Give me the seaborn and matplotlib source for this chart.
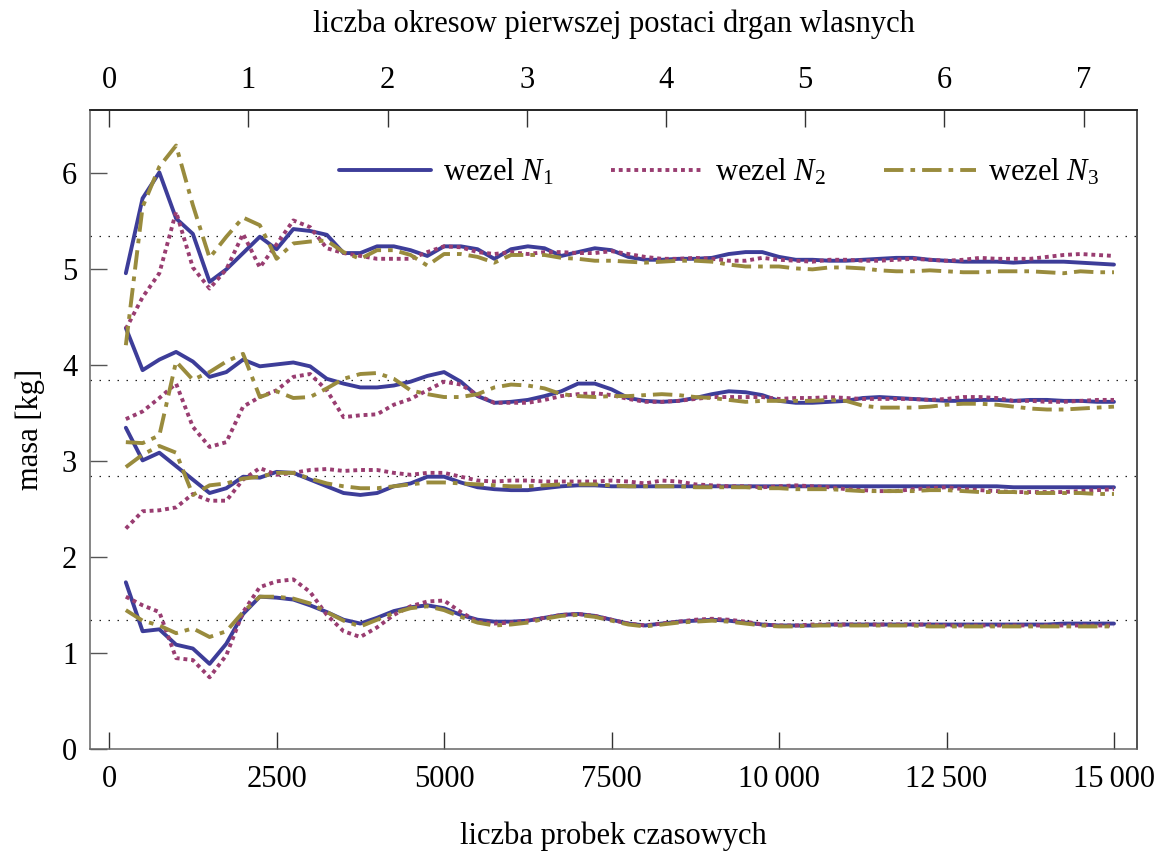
import numpy as np
import pandas as pd
import matplotlib
matplotlib.use("Agg")
import matplotlib.pyplot as plt
import seaborn as sns
from matplotlib.lines import Line2D

sns.set_theme(style="ticks")
plt.rcParams["font.family"] = ["Liberation Serif", "DejaVu Serif"]
plt.rcParams["mathtext.fontset"] = "custom"
plt.rcParams["mathtext.rm"] = "Liberation Serif"
plt.rcParams["mathtext.it"] = "Liberation Serif:italic"
for k in ["text.color", "axes.labelcolor", "xtick.color", "ytick.color"]:
    plt.rcParams[k] = "black"

# ---------------- data ----------------
probki = list(range(250, 15001, 250))  # liczba probek czasowych (60 points)

g1_n1 = [4.96, 5.74, 6.01, 5.53, 5.37, 4.87, 5.00, 5.17, 5.34, 5.21,
         5.42, 5.40, 5.36, 5.17, 5.17, 5.24, 5.24, 5.20, 5.14, 5.24,
         5.24, 5.21, 5.11, 5.21, 5.24, 5.22, 5.14, 5.18, 5.22, 5.20,
         5.13, 5.10, 5.10, 5.11, 5.11, 5.12, 5.16, 5.18, 5.18, 5.13,
         5.10, 5.10, 5.09, 5.09, 5.10, 5.11, 5.12, 5.12, 5.10, 5.09,
         5.08, 5.08, 5.08, 5.07, 5.08, 5.08, 5.08, 5.07, 5.06, 5.05]
g1_n2 = [4.38, 4.71, 4.96, 5.60, 5.02, 4.80, 5.00, 5.37, 5.02, 5.26,
         5.51, 5.44, 5.22, 5.17, 5.14, 5.11, 5.11, 5.11, 5.18, 5.24,
         5.23, 5.18, 5.16, 5.18, 5.16, 5.18, 5.18, 5.17, 5.17, 5.19,
         5.16, 5.13, 5.11, 5.11, 5.12, 5.11, 5.09, 5.09, 5.12, 5.10,
         5.09, 5.08, 5.10, 5.10, 5.09, 5.09, 5.10, 5.11, 5.10, 5.09,
         5.10, 5.12, 5.11, 5.11, 5.11, 5.13, 5.15, 5.16, 5.15, 5.14]
g1_n3 = [4.21, 5.65, 6.07, 6.29, 5.67, 5.12, 5.34, 5.54, 5.46, 5.11,
         5.27, 5.29, 5.30, 5.18, 5.11, 5.20, 5.20, 5.15, 5.04, 5.16,
         5.16, 5.13, 5.07, 5.15, 5.15, 5.15, 5.12, 5.11, 5.09, 5.09,
         5.08, 5.07, 5.08, 5.09, 5.09, 5.08, 5.05, 5.03, 5.03, 5.03,
         5.01, 5.00, 5.02, 5.02, 5.01, 4.99, 4.98, 4.98, 4.99, 4.98,
         4.97, 4.97, 4.98, 4.98, 4.98, 4.97, 4.96, 4.98, 4.97, 4.97]

g2_n1 = [4.39, 3.95, 4.06, 4.14, 4.04, 3.88, 3.93, 4.06, 3.99, 4.01,
         4.03, 3.99, 3.86, 3.81, 3.77, 3.77, 3.79, 3.83, 3.89, 3.93,
         3.83, 3.68, 3.61, 3.62, 3.64, 3.68, 3.73, 3.81, 3.81, 3.75,
         3.66, 3.63, 3.62, 3.63, 3.66, 3.70, 3.73, 3.72, 3.69, 3.63,
         3.61, 3.61, 3.62, 3.63, 3.66, 3.67, 3.66, 3.65, 3.64, 3.63,
         3.63, 3.64, 3.64, 3.63, 3.64, 3.64, 3.63, 3.63, 3.62, 3.62]
g2_n2 = [3.44, 3.52, 3.66, 3.81, 3.36, 3.15, 3.20, 3.57, 3.67, 3.74,
         3.88, 3.91, 3.74, 3.46, 3.48, 3.49, 3.59, 3.65, 3.74, 3.83,
         3.80, 3.69, 3.61, 3.61, 3.61, 3.64, 3.68, 3.70, 3.71, 3.69,
         3.65, 3.62, 3.62, 3.63, 3.65, 3.67, 3.67, 3.67, 3.67, 3.65,
         3.66, 3.66, 3.67, 3.66, 3.65, 3.65, 3.65, 3.65, 3.64, 3.65,
         3.67, 3.67, 3.66, 3.63, 3.63, 3.62, 3.62, 3.63, 3.64, 3.64]
g2_n3 = [3.20, 3.19, 3.27, 4.04, 3.85, 3.93, 4.04, 4.12, 3.67, 3.73,
         3.66, 3.67, 3.76, 3.86, 3.91, 3.92, 3.86, 3.74, 3.70, 3.67,
         3.67, 3.70, 3.77, 3.80, 3.79, 3.76, 3.70, 3.68, 3.67, 3.68,
         3.68, 3.69, 3.70, 3.69, 3.67, 3.66, 3.64, 3.62, 3.63, 3.63,
         3.63, 3.63, 3.64, 3.63, 3.58, 3.56, 3.56, 3.56, 3.57, 3.59,
         3.60, 3.60, 3.59, 3.57, 3.55, 3.54, 3.54, 3.55, 3.56, 3.57]

g3_n1 = [3.35, 3.01, 3.09, 2.95, 2.81, 2.67, 2.72, 2.84, 2.83, 2.89,
         2.88, 2.81, 2.74, 2.67, 2.65, 2.67, 2.74, 2.77, 2.84, 2.84,
         2.78, 2.73, 2.71, 2.70, 2.70, 2.72, 2.74, 2.75, 2.75, 2.74,
         2.74, 2.74, 2.74, 2.74, 2.74, 2.74, 2.74, 2.74, 2.74, 2.74,
         2.74, 2.74, 2.74, 2.74, 2.74, 2.74, 2.74, 2.74, 2.74, 2.74,
         2.74, 2.74, 2.74, 2.73, 2.73, 2.73, 2.73, 2.73, 2.73, 2.73]
g3_n2 = [2.30, 2.48, 2.49, 2.52, 2.66, 2.59, 2.59, 2.81, 2.93, 2.86,
         2.88, 2.91, 2.92, 2.90, 2.91, 2.91, 2.88, 2.86, 2.88, 2.88,
         2.84, 2.80, 2.79, 2.80, 2.80, 2.79, 2.79, 2.79, 2.79, 2.80,
         2.79, 2.77, 2.80, 2.79, 2.76, 2.75, 2.74, 2.74, 2.73, 2.74,
         2.75, 2.74, 2.73, 2.71, 2.70, 2.69, 2.69, 2.71, 2.72, 2.73,
         2.71, 2.70, 2.69, 2.68, 2.68, 2.68, 2.68, 2.69, 2.70, 2.71]
g3_n3 = [2.94, 3.07, 3.16, 3.09, 2.65, 2.75, 2.77, 2.82, 2.84, 2.88,
         2.88, 2.82, 2.77, 2.74, 2.72, 2.72, 2.74, 2.76, 2.78, 2.78,
         2.77, 2.76, 2.75, 2.74, 2.74, 2.75, 2.76, 2.76, 2.76, 2.75,
         2.74, 2.74, 2.74, 2.74, 2.73, 2.73, 2.73, 2.73, 2.72, 2.72,
         2.71, 2.71, 2.71, 2.70, 2.69, 2.69, 2.69, 2.69, 2.70, 2.70,
         2.69, 2.68, 2.68, 2.68, 2.67, 2.67, 2.67, 2.67, 2.66, 2.66]

g4_n1 = [1.74, 1.23, 1.25, 1.09, 1.05, 0.89, 1.10, 1.41, 1.59, 1.58,
         1.56, 1.50, 1.43, 1.35, 1.31, 1.37, 1.44, 1.48, 1.50, 1.47,
         1.40, 1.35, 1.33, 1.33, 1.34, 1.37, 1.40, 1.41, 1.39, 1.35,
         1.31, 1.29, 1.31, 1.33, 1.34, 1.35, 1.34, 1.32, 1.30, 1.29,
         1.29, 1.29, 1.30, 1.30, 1.30, 1.30, 1.30, 1.30, 1.30, 1.30,
         1.30, 1.30, 1.30, 1.30, 1.30, 1.30, 1.31, 1.31, 1.31, 1.31]
g4_n2 = [1.59, 1.50, 1.43, 0.95, 0.93, 0.75, 0.98, 1.43, 1.69, 1.75,
         1.77, 1.64, 1.40, 1.23, 1.17, 1.27, 1.40, 1.49, 1.54, 1.55,
         1.43, 1.33, 1.31, 1.32, 1.34, 1.37, 1.40, 1.41, 1.39, 1.35,
         1.31, 1.29, 1.31, 1.33, 1.35, 1.36, 1.35, 1.33, 1.30, 1.29,
         1.29, 1.30, 1.30, 1.30, 1.30, 1.30, 1.30, 1.30, 1.30, 1.29,
         1.29, 1.29, 1.29, 1.29, 1.29, 1.29, 1.29, 1.29, 1.29, 1.29]
g4_n3 = [1.45, 1.34, 1.29, 1.21, 1.26, 1.17, 1.23, 1.43, 1.59, 1.59,
         1.57, 1.52, 1.43, 1.34, 1.28, 1.35, 1.42, 1.47, 1.49, 1.45,
         1.38, 1.32, 1.29, 1.30, 1.32, 1.36, 1.39, 1.40, 1.38, 1.34,
         1.30, 1.28, 1.30, 1.32, 1.33, 1.34, 1.33, 1.31, 1.29, 1.28,
         1.28, 1.29, 1.29, 1.29, 1.29, 1.29, 1.29, 1.29, 1.28, 1.28,
         1.28, 1.28, 1.28, 1.28, 1.28, 1.28, 1.28, 1.28, 1.28, 1.28]

ref_values = [5.35, 3.85, 2.85, 1.35]
wezly = ["N1", "N2", "N3"]
legend_labels = [r"wezel $N_1$", r"wezel $N_2$", r"wezel $N_3$"]
xtick_vals = [0, 2500, 5000, 7500, 10000, 12500, 15000]
xtick_labels = ["0", "2500", "5000", "7500", "10\u2009000", "12\u2009500", "15\u2009000"]
ytick_vals = [0, 1, 2, 3, 4, 5, 6]
top_ticks = [0, 1, 2, 3, 4, 5, 6, 7]
okres = 2078.0  # samples per period of first mode

series = {
    ("g1", "N1"): g1_n1, ("g1", "N2"): g1_n2, ("g1", "N3"): g1_n3,
    ("g2", "N1"): g2_n1, ("g2", "N2"): g2_n2, ("g2", "N3"): g2_n3,
    ("g3", "N1"): g3_n1, ("g3", "N2"): g3_n2, ("g3", "N3"): g3_n3,
    ("g4", "N1"): g4_n1, ("g4", "N2"): g4_n2, ("g4", "N3"): g4_n3,
}
rows = []
for (g, w), vals in series.items():
    for p, v in zip(probki, vals):
        rows.append({"probki": p, "masa": v, "wezel": w, "grupa": g})
df = pd.DataFrame(rows)

# ---------------- style ----------------
colors = {"N1": (0.24, 0.24, 0.6), "N2": (0.6, 0.24, 0.442893), "N3": (0.6, 0.547014, 0.24)}
dashes = {"N1": "", "N2": (1, 1), "N3": (5, 1.8, 1.2, 1.8)}
LW = 2.8
FS = 22

fig = plt.figure(figsize=(11.66, 8.51), dpi=100)
ax = fig.add_axes([0.0769, 0.1195, 0.8986, 0.7512])

for v in ref_values:
    ax.axhline(v, color="#222222", lw=0.9, ls=(0, (1.2, 6.0)), zorder=0)

sns.lineplot(data=df, x="probki", y="masa", hue="wezel", style="wezel",
             units="grupa", estimator=None, sort=False,
             palette=colors, dashes=dashes, linewidth=LW,
             legend=False, ax=ax)

ax.set_xlim(-290, 15350)
ax.set_ylim(0, 6.66)
ax.set_xticks(xtick_vals)
ax.set_xticklabels(xtick_labels)
ax.set_yticks(ytick_vals)
ax.set_yticklabels([str(t) for t in ytick_vals])
ax.tick_params(axis="x", direction="in", length=12, width=1, labelsize=FS,
               pad=11, color="#333333", top=False)
ax.tick_params(axis="y", direction="in", length=12, width=1, labelsize=FS,
               pad=9, color="#555555", right=False)
ax.set_xlabel("liczba probek czasowych", fontsize=FS, labelpad=20)
ax.set_ylabel("masa [kg]", fontsize=FS, labelpad=12)

for side in ["left", "bottom"]:
    ax.spines[side].set_color("#666666")
for side in ["top", "right"]:
    ax.spines[side].set_color("#222222")
for s in ax.spines.values():
    s.set_linewidth(1.1)

secax = ax.secondary_xaxis("top", functions=(lambda s: s / okres, lambda p: p * okres))
secax.set_xticks(top_ticks)
secax.set_xticklabels([str(t) for t in top_ticks])
secax.tick_params(direction="in", length=12, width=1, labelsize=FS, pad=11, color="#333333")
secax.set_xlabel("liczba okresow pierwszej postaci drgan wlasnych", fontsize=FS, labelpad=24)

handles = [Line2D([], [], color=colors["N1"], lw=LW, ls="-"),
           Line2D([], [], color=colors["N2"], lw=LW, dashes=dashes["N2"]),
           Line2D([], [], color=colors["N3"], lw=LW, dashes=dashes["N3"])]
ax.legend(handles, legend_labels, ncol=3, frameon=False, loc="center right",
          bbox_to_anchor=(0.963, 0.903), handlelength=3.0, handletextpad=0.4,
          columnspacing=1.9, fontsize=FS, borderaxespad=0, borderpad=0)

fig.savefig("out.png", dpi=100)
